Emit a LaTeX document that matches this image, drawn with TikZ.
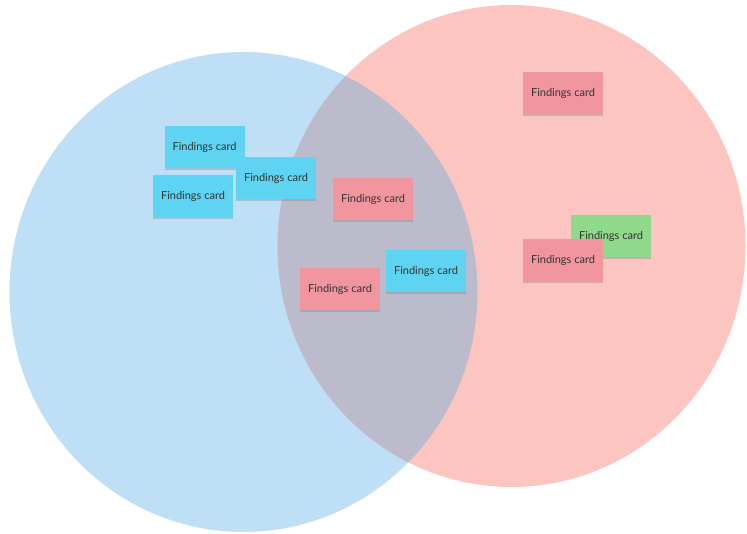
\documentclass[tikz,border=0pt]{standalone}
\usepackage{fontspec}
\setmainfont{Lato}
\usetikzlibrary{shadows}
\definecolor{bluezone}{HTML}{BEDFF6}
\definecolor{redzone}{HTML}{FCC5BF}
\definecolor{bothzone}{HTML}{BBBBCB}
\definecolor{bluecard}{HTML}{5ED4F2}
\definecolor{redcard}{HTML}{F1959E}
\definecolor{greencard}{HTML}{90D88A}
\begin{document}
\begin{tikzpicture}[x=1pt, y=-1pt,
    card/.style = {minimum width=80pt, minimum height=42pt, inner sep=0pt,
      font=\fontsize{11}{13}\selectfont, text=black!80,
      drop shadow={shadow xshift=0pt, shadow yshift=-2pt, opacity=.35}},
    blue/.style = {card, fill=bluecard},
    red/.style = {card, fill=redcard},
    green/.style = {card, fill=greencard}]
    \useasboundingbox (0,0) rectangle (747,534);
    % the two sets
    \fill[bluezone] (243.5,292) ellipse [x radius=234, y radius=240];
    \fill[redzone] (511.5,246) ellipse [x radius=234, y radius=241];
    \begin{scope}
      \clip (243.5,292) ellipse [x radius=234, y radius=240];
      \fill[bothzone] (511.5,246) ellipse [x radius=234, y radius=241];
    \end{scope}
    % cards
    \node[blue] (1) at (204.5,147.5) {Findings card};
    \node[blue] (2) at (193,196) {Findings card};
    \node[blue] (3) at (276,178.5) {Findings card};
    \node[red] (4) at (373,199) {Findings card};
    \node[blue] (5) at (426,271.5) {Findings card};
    \node[red] (6) at (340,289) {Findings card};
    \node[red] (7) at (563,93) {Findings card};
    \node[green] (8) at (611,236) {Findings card};
    \node[red] (9) at (563,260) {Findings card};
\end{tikzpicture}
\end{document}
